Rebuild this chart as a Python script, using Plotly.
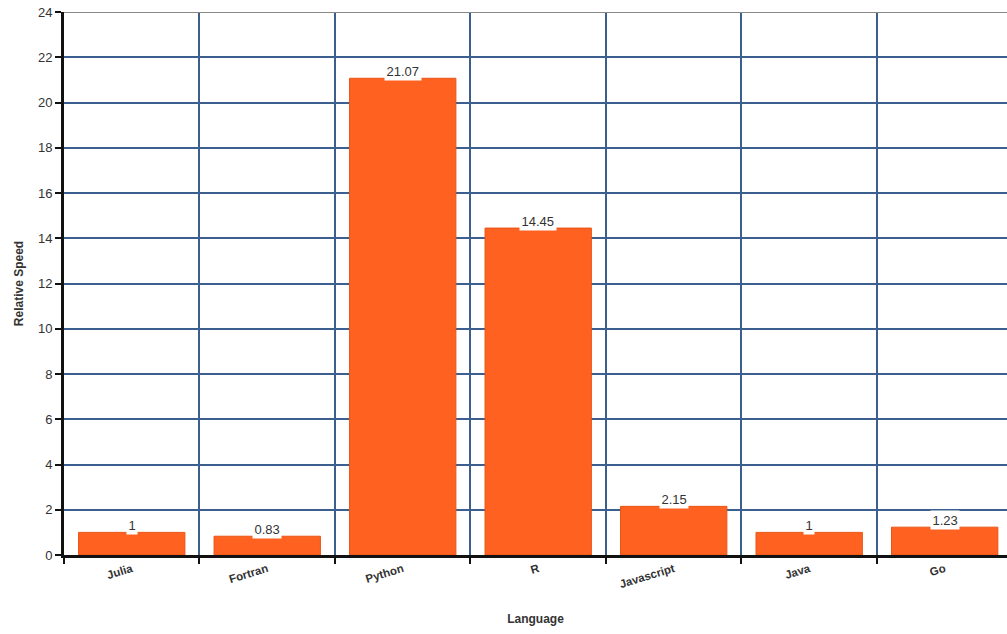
import plotly.graph_objects as go

languages = ["Julia", "Fortran", "Python", "R", "Javascript", "Java", "Go"]
speeds = [1, 0.83, 21.07, 14.45, 2.15, 1, 1.23]
value_labels = ["1", "0.83", "21.07", "14.45", "2.15", "1", "1.23"]
y_ticks = list(range(0, 25, 2))

bar_color = "#FF6120"
grid_color = "#3B5F8F"
font_fam = "Arial, Liberation Sans, sans-serif"

fig = go.Figure()
fig.add_trace(go.Bar(
    x=languages, y=speeds, width=0.785,
    marker=dict(color=bar_color, line=dict(color="#E85515", width=1)),
    hoverinfo="skip",
))

for lang, v, t in zip(languages, speeds, value_labels):
    fig.add_annotation(
        x=lang, y=v, text=t, showarrow=False,
        yanchor="bottom", yshift=-3,
        bgcolor="white", borderpad=1.5,
        font=dict(family=font_fam, size=13, color="#333333"),
    )

fig.update_layout(
    width=1007, height=634,
    margin=dict(l=64, r=0, t=12, b=79),
    plot_bgcolor="white", paper_bgcolor="white",
    showlegend=False,
    font=dict(family=font_fam, size=12, color="#333333"),
    bargap=0.2,
)

fig.update_xaxes(
    type="category",
    range=[-0.5, 6.46],
    tickson="boundaries",
    showgrid=True, gridcolor=grid_color, gridwidth=1.5,
    ticks="outside", ticklen=6, tickcolor="#111111", tickwidth=2,
    tickangle=-17,
    tickfont=dict(family=font_fam, size=11.5, color="#333333", weight="bold"),
    showline=True, linecolor="#111111", linewidth=3,
    zeroline=False,
    title=dict(text="Language", font=dict(family=font_fam, size=12, color="#333333", weight="bold"), standoff=26),
)

fig.update_yaxes(
    range=[0, 24],
    tickvals=y_ticks,
    showgrid=True, gridcolor=grid_color, gridwidth=1.5,
    ticks="outside", ticklen=6, tickcolor="#111111", tickwidth=1.5,
    tickfont=dict(family=font_fam, size=13, color="#333333"),
    showline=True, linecolor="#111111", linewidth=3,
    zeroline=False,
    title=dict(text="Relative Speed", font=dict(family=font_fam, size=12, color="#333333", weight="bold"), standoff=12),
)

# top border line at y=24
fig.add_shape(type="line", xref="paper", yref="y", x0=0, x1=1, y0=24, y1=24,
              line=dict(color="#888888", width=2))

fig.write_html("out.html")
